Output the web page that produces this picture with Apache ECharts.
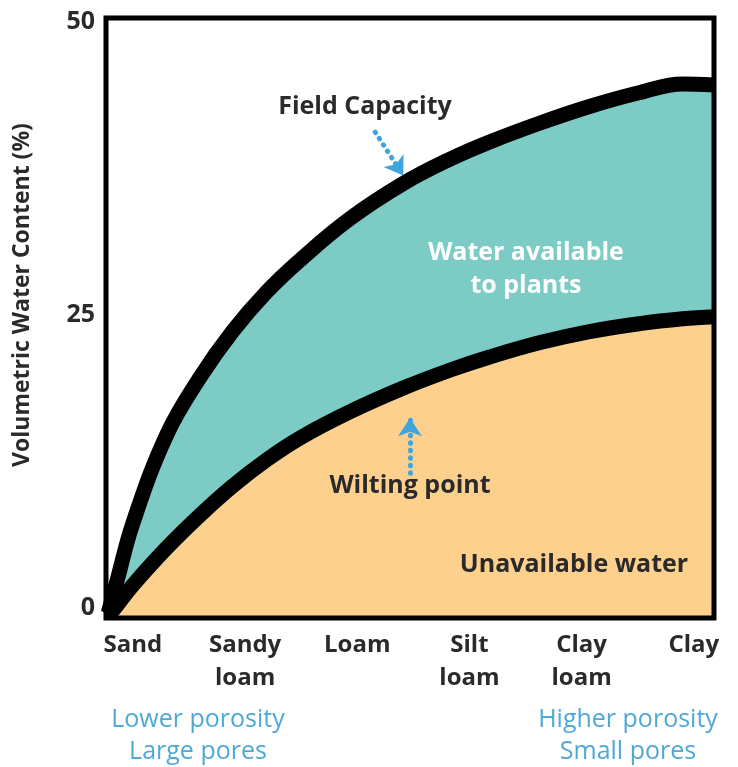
<!DOCTYPE html>
<html>
<head>
<meta charset="utf-8">
<script src="https://cdn.jsdelivr.net/npm/echarts@6/dist/echarts.min.js"></script>
<style>
html,body{margin:0;padding:0;background:#fff;}
#chart{width:738px;height:767px;}
</style>
</head>
<body>
<div id="chart"></div>
<script>
// Soil texture classes (x-axis categories, index 0..5)
var textures = ['Sand', 'Sandy\nloam', 'Loam', 'Silt\nloam', 'Clay\nloam', 'Clay'];
// Position along texture scale (fractional texture index) for curve samples
var textureIndex = [-0.22, -0.14, 0, 0.3, 0.6, 0.89, 1.19, 1.49, 1.93, 2.41, 2.83, 3.18, 3.63, 4.07, 4.52, 4.9, 5.18];
// Volumetric water content (%) at field capacity
var fieldCapacity = [-0.43, 2.39, 7.25, 14.76, 19.71, 23.63, 26.96, 29.69, 33.19, 36.22, 38.31, 39.76, 41.38, 42.79, 43.98, 44.71, 44.62];
// Volumetric water content (%) at wilting point
var wiltingPoint = [-0.68, 0.26, 1.96, 5.12, 7.94, 10.41, 12.63, 14.51, 16.72, 18.77, 20.31, 21.42, 22.65, 23.59, 24.27, 24.68, 24.86];
var yTicks = [0, 25, 50];
var xTicks = [0, 1, 2, 3, 4, 5];

function pairs(xs, ys) { return xs.map(function (x, i) { return [x, ys[i]]; }); }
var fcData = pairs(textureIndex, fieldCapacity);
var wpData = pairs(textureIndex, wiltingPoint);

var dark = '#2a2a2a';
var blue = '#3fa6dd';
var font = '"Open Sans", "Noto Sans", sans-serif';

var chart = echarts.init(document.getElementById('chart'), null, {renderer: 'canvas'});
chart.setOption({
  animation: false,
  backgroundColor: '#ffffff',
  grid: {
    left: 106, right: 24, top: 18, bottom: 149,
    show: true, z: 10, backgroundColor: 'transparent',
    borderColor: '#000', borderWidth: 5
  },
  xAxis: {
    type: 'value', min: -0.24, max: 5.18,
    axisLine: {show: false}, axisTick: {show: false}, splitLine: {show: false},
    axisLabel: {
      customValues: xTicks,
      formatter: function (v) { return textures[Math.round(v)]; },
      color: dark, fontFamily: font, fontWeight: 700, fontSize: 24,
      lineHeight: 33, margin: 11, verticalAlign: 'top'
    }
  },
  yAxis: {
    type: 'value', min: -0.85, max: 50.34,
    axisLine: {show: false}, axisTick: {show: false}, splitLine: {show: false},
    axisLabel: {
      customValues: yTicks,
      color: dark, fontFamily: font, fontWeight: 700, fontSize: 25, margin: 11
    }
  },
  series: [
    {
      type: 'line', data: fcData, smooth: 0.4, symbol: 'none', z: 2,
      lineStyle: {width: 0, color: '#7ccbc5'},
      areaStyle: {color: '#7ccbc5', opacity: 1, origin: 'start'}
    },
    {
      type: 'line', data: wpData, smooth: 0.4, symbol: 'none', z: 3,
      lineStyle: {width: 0, color: '#fed08e'},
      areaStyle: {color: '#fed08e', opacity: 1, origin: 'start'}
    },
    {
      type: 'line', data: fcData, smooth: 0.4, symbol: 'none', z: 4,
      lineStyle: {width: 15, color: '#000', cap: 'butt', join: 'round'},
      markLine: {
        silent: true, symbol: ['none', 'arrow'], symbolSize: [18, 18],
        label: {show: false},
        lineStyle: {color: blue, width: 5, type: [0.5, 7], cap: 'round'},
        data: [[{coord: [2.16, 40.6]}, {coord: [2.41, 36.9]}]]
      }
    },
    {
      type: 'line', data: wpData, smooth: 0.4, symbol: 'none', z: 5,
      lineStyle: {width: 15, color: '#000', cap: 'butt', join: 'round'},
      markLine: {
        silent: true, symbol: ['none', 'arrow'], symbolSize: [18, 18],
        label: {show: false},
        lineStyle: {color: blue, width: 5, type: [0.5, 7], cap: 'round'},
        data: [[{coord: [2.47, 11.5]}, {coord: [2.47, 16.2]}]]
      }
    }
  ],
  graphic: [
    {type: 'text', x: 22, y: 295, rotation: Math.PI / 2, z: 100,
     style: {text: 'Volumetric Water Content (%)', fill: dark, font: '700 23px ' + font, align: 'center', verticalAlign: 'middle'}},
    {type: 'text', x: 365, y: 107, z: 100,
     style: {text: 'Field Capacity', fill: dark, font: '700 25px ' + font, align: 'center', verticalAlign: 'middle'}},
    {type: 'text', x: 526, y: 269, z: 100,
     style: {text: 'Water available\nto plants', fill: '#ffffff', font: '700 25px ' + font, lineHeight: 33, align: 'center', verticalAlign: 'middle'}},
    {type: 'text', x: 410, y: 486, z: 100,
     style: {text: 'Wilting point', fill: dark, font: '700 25px ' + font, align: 'center', verticalAlign: 'middle'}},
    {type: 'text', x: 574, y: 565, z: 100,
     style: {text: 'Unavailable water', fill: dark, font: '700 25px ' + font, align: 'center', verticalAlign: 'middle'}},
    {type: 'text', x: 198, y: 736, z: 100,
     style: {text: 'Lower porosity\nLarge pores', fill: '#4ea9d6', font: '400 25px ' + font, lineHeight: 32, align: 'center', verticalAlign: 'middle'}},
    {type: 'text', x: 628, y: 736, z: 100,
     style: {text: 'Higher porosity\nSmall pores', fill: '#4ea9d6', font: '400 25px ' + font, lineHeight: 32, align: 'center', verticalAlign: 'middle'}}
  ]
});
</script>
</body>
</html>
